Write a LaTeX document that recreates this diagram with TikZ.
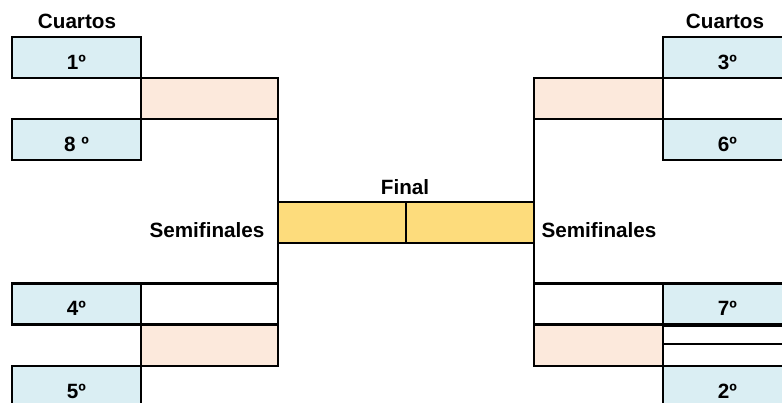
\documentclass[tikz,border=0pt]{standalone}
\usepackage{fontspec}
\setmainfont{Liberation Sans}
\definecolor{qblue}{HTML}{DAEEF3}
\definecolor{sorange}{HTML}{FCE9DC}
\definecolor{fyellow}{HTML}{FDDC7C}
\newcommand{\lowtxt}[1]{\raisebox{-3.5pt}[\height][\depth]{#1}}
\begin{document}
\begin{tikzpicture}[x=0.75pt,y=-0.75pt,
  every node/.style={font=\fontsize{15.5}{18}\selectfont\bfseries, inner sep=0pt, outer sep=0pt},
  cell/.style={draw=black, line width=1.6pt, rectangle, minimum width=96.75pt, minimum height=30.75pt},
  qbox/.style={cell, fill=qblue},
  sbox/.style={cell, fill=sorange, minimum width=102.75pt},
  rsbox/.style={cell, fill=sorange},
  wbox/.style={cell, fill=white},
  wsbox/.style={cell, fill=white, minimum width=102.75pt},
  fbox/.style={cell, fill=fyellow, minimum width=96pt},
  thinrow/.style={draw=black, line width=1.6pt, rectangle, fill=white, minimum width=96.75pt},
  link/.style={draw=black, line width=1.6pt},
  lbl/.style={}]
\useasboundingbox (0,0) rectangle (782,403);
\clip (0,0) rectangle (782,403);
% left side
\node[qbox] (q1) at (76.5,57.5) {\lowtxt{1º}};
\node[sbox] (s1) at (209.5,98.5) {};
\node[qbox] (q8) at (76.5,139.5) {\lowtxt{8 º}};
\node[qbox] (q4) at (76.5,304) {\lowtxt{4º}};
\node[wsbox] (w4) at (209.5,304) {};
\node[sbox] (s2) at (209.5,345.5) {};
\node[qbox] (q5) at (76.5,386.5) {\lowtxt{5º}};
% right side
\node[qbox] (q3) at (727.5,57.5) {\lowtxt{3º}};
\node[wbox] (w3) at (727.5,98.5) {};
\node[rsbox] (s3) at (598.5,98.5) {};
\node[qbox] (q6) at (727.5,139.5) {\lowtxt{6º}};
\node[wbox] (w7) at (598.5,304) {};
\node[qbox] (q7) at (727.5,304) {\lowtxt{7º}};
\node[rsbox] (s4) at (598.5,345.5) {};
\node[thinrow, minimum height=13.5pt] (r1) at (727.5,335) {};
\node[thinrow, minimum height=17.25pt] (r2) at (727.5,355.5) {};
\node[qbox] (q2) at (727.5,386.5) {\lowtxt{2º}};
% final
\node[fbox] (f1) at (342,222.5) {};
\node[fbox] (f2) at (470,222.5) {};
% connectors
\draw[link] (s1.south east) -- (f1.north west);
\draw[link] (f1.south west) -- (w4.north east);
\draw[link] (s3.south west) -- (f2.north east);
\draw[link] (f2.south east) -- (w7.north west);
% labels
\node[lbl] (tc1) at (77,21) {Cuartos};
\node[lbl] (tc2) at (725,21) {Cuartos};
\node[lbl] (tf) at (405,187) {Final};
\node[lbl] (ts1) at (207,230) {Semifinales};
\node[lbl] (ts2) at (599,230) {Semifinales};
\end{tikzpicture}
\end{document}
